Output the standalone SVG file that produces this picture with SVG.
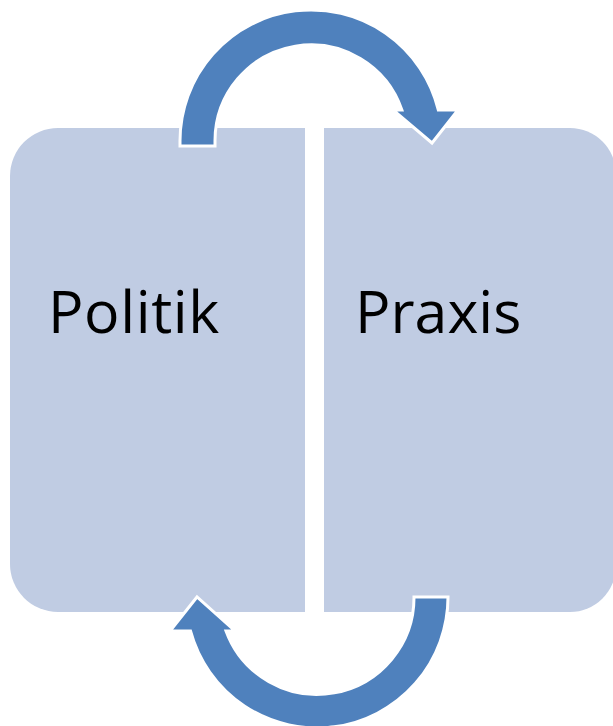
<svg xmlns="http://www.w3.org/2000/svg" width="613" height="726" viewBox="0 0 613 726">
<style>
.box{fill:#C0CCE3;}
.arrow{fill:#4F81BD;stroke:#FFFFFF;stroke-width:3;stroke-linejoin:miter;}
.label{font-family:"Open Sans","Noto Sans",sans-serif;font-size:59px;fill:#000000;}
</style>
<rect width="613" height="726" fill="#FFFFFF"/>
<g id="politik">
<path class="box" d="M305,128 L58,128 A48,48 0 0 0 10,176 L10,564 A48,48 0 0 0 58,612 L305,612 Z"/>
<text class="label" x="48" y="333" letter-spacing="0.6">Politik</text>
</g>
<g id="praxis">
<path class="box" d="M324,128 L570,128 A46,46 0 0 1 616,174 L616,566 A46,46 0 0 1 570,612 L324,612 Z"/>
<text class="label" x="355" y="333">Praxis</text>
</g>
<g id="connectors">
<path class="arrow" d="M180,146 L180,141 A131,131 0 0 1 438.3,110 L458,110 L432,143 L393,110 L401.9,110 A96,96 0 0 0 215,141 L215,146 Z"/>
<path class="arrow" d="M448,597 A131,131 0 0 1 190.5,631 L170,631 L197,597 L235,631 L226,631 A97,97 0 0 0 414,597 Z"/>
</g>
</svg>
